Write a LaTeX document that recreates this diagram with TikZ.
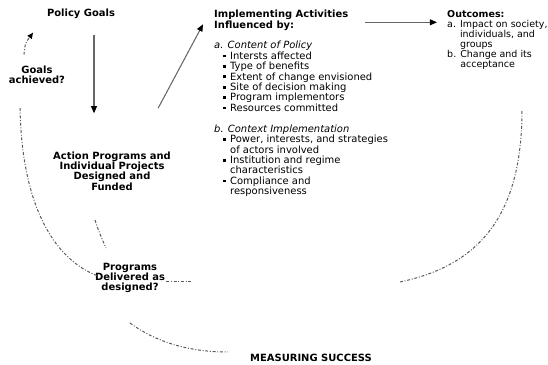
\documentclass[tikz,border=0pt]{standalone}
\usepackage{fontspec}
\setmainfont{DejaVu Sans}
\usetikzlibrary{arrows.meta, positioning, calc}
\newcommand{\bul}{\rule[1.7pt]{2.3pt}{2.3pt}}
\newcommand{\itm}{\hspace*{7.7pt}\bul\hspace{3.6pt}}
\newcommand{\cnt}{\hspace*{13.6pt}}

\tikzset{
  txt/.style={font=\fontsize{8.5}{8.9}\selectfont, inner sep=0pt, align=left},
  hd/.style={font=\fontsize{8.5}{8.9}\selectfont\bfseries, inner sep=0pt, align=center},
  arr/.style={draw=black!60, line width=0.9pt, -{Triangle[length=6pt,width=5pt,color=black]}},
  dashdot/.style={draw=black!65, line width=0.85pt, dash pattern=on 2.5pt off 1.5pt on 0.8pt off 1.5pt},
}

\begin{document}
\begin{tikzpicture}[x=0.03cm, y=-0.03cm]
        \useasboundingbox (0,0) rectangle (548,365);
        % Bloques de texto
        \node[hd] (policy) at (81,14) {Policy Goals};
        \node[hd] (goalsq) at (37,75) {Goals\\achieved?};
        \node[hd] (action) at (112,171) {Action Programs and\\Individual Projects\\Designed and\\Funded};
        \node[hd] (delivered) at (130,278) {Programs\\Delivered as\\designed?};
        \node[hd] (measuring) at (311,358) {MEASURING SUCCESS};
        \node[hd, align=left, anchor=north west] (implement) at (214,10) {Implementing Activities\\Influenced by:};
        \node[txt, below=8.9pt of implement.south west, anchor=north west] (factors) {%
          \textit{a. Content of Policy}\\
          \itm Intersts affected\\
          \itm Type of benefits\\
          \itm Extent of change envisioned\\
          \itm Site of decision making\\
          \itm Program implementors\\
          \itm Resources committed\\[8.9pt]
          \textit{b. Context Implementation}\\
          \itm Power, interests, and strategies\\
          \cnt of actors involved\\
          \itm Institution and regime\\
          \cnt characteristics\\
          \itm Compliance and\\
          \cnt responsiveness};
        \node[txt, font=\fontsize{8.1}{8.6}\selectfont, anchor=north west] (outcomes) at (447,10) {%
          \textbf{Outcomes:}\\
          a. Impact on society,\\
          \phantom{a. }individuals, and\\
          \phantom{a. }groups\\
          b. Change and its\\
          \phantom{b. }acceptance};
        % Flechas
        \draw[arr] ($(policy.south)+(13,16)$) coordinate (v) -- ($(v |- action.north)+(0,-38)$);
        \draw[arr] ($(action.north east)+(-13,-43)$) -- ($(implement.west)+(-11,4)$);
        \draw[arr] ($(implement.east)+(17,2)$) coordinate (h) -- ($(h -| outcomes.west)+(-10,0)$);
        \draw[dashdot, -{Triangle[length=5pt,width=4.5pt,color=black]}]
          ($(goalsq.north)+(-13,-11)$) .. controls ($(goalsq.north)+(-12,-22)$) .. ($(goalsq.north)+(-4,-33)$);
        % Curvas de medición
        \draw[dashdot] (20,108) .. controls (22,215) and (60,262) .. (98,276);
        \draw[dashdot] (95,220) .. controls (99,232) .. (106,248);
        \draw[dashdot] (delivered.east |- 0,281) ++(1,0) -- ++(25,0);
        \draw[dashdot] (400,282) .. controls (480,265) and (522,215) .. (522,110);
        \draw[dashdot] (130,323) .. controls (160,345) and (195,352) .. (228,352);
    \end{tikzpicture}
\end{document}
